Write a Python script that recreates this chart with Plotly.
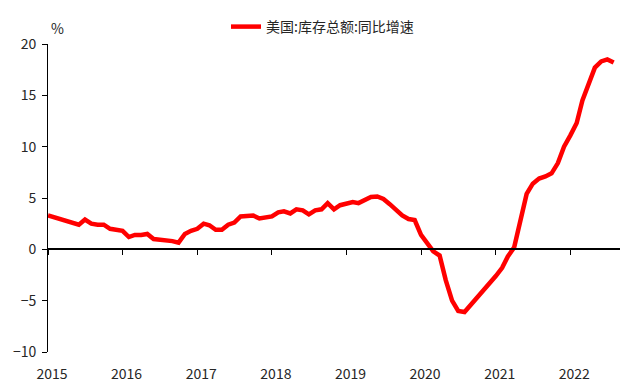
import plotly.graph_objects as go
import pandas as pd

series_name = "美国:库存总额:同比增速"
start_month = "2015-01-01"
values = [
    # 2015
    3.3, 3.1, 2.9, 2.7, 2.5, 2.4, 2.9, 2.5, 2.4, 2.4, 2.0, 1.9,
    # 2016
    1.8, 1.2, 1.4, 1.4, 1.5, 1.0, 0.95, 0.9, 0.8, 0.65, 1.5, 1.8,
    # 2017
    2.0, 2.5, 2.35, 1.9, 1.9, 2.4, 2.6, 3.2, 3.3, 3.3, 3.0, 3.1,
    # 2018
    3.2, 3.6, 3.7, 3.5, 3.9, 3.8, 3.4, 3.8, 3.9, 4.5, 3.9, 4.3,
    # 2019
    4.4, 4.6, 4.5, 4.8, 5.1, 5.15, 4.9, 4.4, 3.9, 3.3, 2.95, 2.85,
    # 2020
    1.4, 0.5, -0.2, -0.6, -3.0, -5.0, -6.0, -6.1, -5.4, -4.7, -4.0, -3.4,
    # 2021
    -2.6, -1.8, -0.7, 0.2, 2.6, 5.4, 6.4, 6.9, 7.1, 7.4, 8.4, 10.0,
    # 2022
    11.1, 12.3, 14.5, 16.2, 17.7, 18.3, 18.5, 18.2,
]
year_ticks = ["2015", "2016", "2017", "2018", "2019", "2020", "2021", "2022"]
y_ticks = [-10, -5, 0, 5, 10, 15, 20]

months = pd.date_range(start_month, periods=len(values), freq="MS")

FONT = "Noto Sans CJK SC"

# page body has an 8px margin, so the figure is offset by (8, 8) in the window
fig = go.Figure()
fig.add_trace(go.Scatter(
    x=months, y=values, mode="lines", name=series_name,
    line=dict(color="#ff0000", width=4.5),
))

fig.update_layout(
    width=632, height=376,
    margin=dict(l=40, r=20, t=36, b=32, autoexpand=False),
    paper_bgcolor="white", plot_bgcolor="white",
    font=dict(family=FONT, size=14, color="#262626"),
    showlegend=True,
    legend=dict(
        orientation="h", x=(226 - 48) / 572, xanchor="left",
        y=(352 - 27) / 308, yanchor="middle",
        font=dict(family=FONT, size=14, color="#262626"),
        bgcolor="rgba(0,0,0,0)", itemwidth=30,
    ),
    xaxis=dict(
        type="date",
        range=["2015-01-01", "2022-09-01"],
        tickvals=[f"{y}-01-01" for y in year_ticks],
        ticktext=year_ticks,
        ticks="outside", ticklen=5, tickcolor="black", tickwidth=1,
        showline=True, linecolor="black", linewidth=1.5,
        showgrid=False, zeroline=False,
        anchor="free", position=1 / 3,
        ticklabelstandoff=107,
        ticklabelshift=4,
        automargin=False,
    ),
    yaxis=dict(
        range=[-10, 20], tickvals=y_ticks,
        ticks="outside", ticklen=5, tickcolor="black", tickwidth=1,
        showline=True, linecolor="black", linewidth=1,
        showgrid=False, zeroline=False,
        domain=[0, 1],
        ticklabelstandoff=3,
        automargin=False,
    ),
    annotations=[dict(
        text="%", xref="paper", yref="paper",
        x=(57 - 48) / 572, y=(352 - 28) / 308,
        xanchor="center", yanchor="middle", showarrow=False,
        font=dict(family=FONT, size=14, color="#262626"),
    )],
)

fig.write_html("out.html")
